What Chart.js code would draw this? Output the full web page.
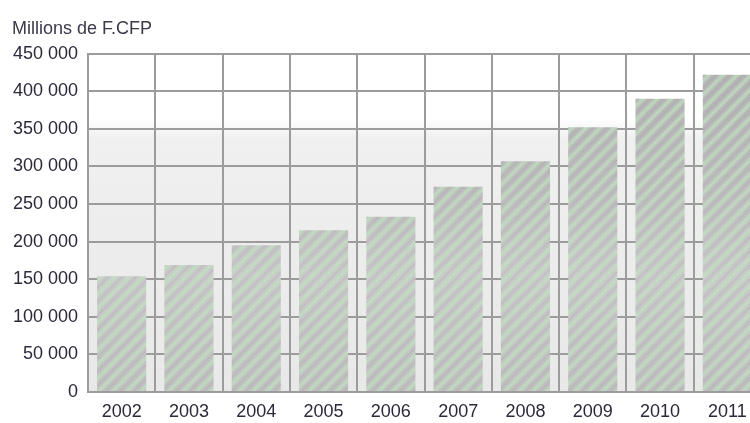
<!DOCTYPE html>
<html>
<head>
<meta charset="utf-8">
<script src="https://cdn.jsdelivr.net/npm/chart.js@4/dist/chart.umd.min.js"></script>
<style>
  html, body { margin: 0; padding: 0; background: #fff; overflow: hidden; }
  #wrap { width: 770px; height: 423px; }
</style>
</head>
<body>
<div id="wrap"><canvas id="chartRecettes" width="770" height="423"></canvas></div>
<script>
// données (millions de F.CFP)
const annees = ['2002', '2003', '2004', '2005', '2006', '2007', '2008', '2009', '2010', '2011'];
const montants = [154000, 169000, 195000, 215000, 233000, 273000, 307000, 352000, 390000, 422000];
const yMax = 450000;
const yPas = 50000;

const police = "'Liberation Sans', Arial, sans-serif";

// motif hachuré des barres : dégradé gris + rayures vertes en diagonale
function motifBarres() {
    const c = document.createElement('canvas');
    c.width = 28;
    c.height = 423;
    const g = c.getContext('2d');
    const grad = g.createLinearGradient(0, 54, 0, 392);
    grad.addColorStop(0, '#b3b3b3');
    grad.addColorStop(0.4, '#bdbdbd');
    grad.addColorStop(0.65, '#c9c9c9');
    grad.addColorStop(1, '#bfbfbf');
    g.fillStyle = grad;
    g.fillRect(0, 0, c.width, c.height);
    g.strokeStyle = 'rgba(192, 228, 192, 0.6)';
    g.lineWidth = 4;
    for (let x = -c.height; x < c.width + c.height; x += 14) {
        g.beginPath();
        g.moveTo(x, c.height);
        g.lineTo(x + c.height, 0);
        g.stroke();
    }
    g.strokeStyle = 'rgba(140, 140, 140, 0.3)';
    g.lineWidth = 1;
    for (let x = -c.height + 7; x < c.width + c.height; x += 14) {
        g.beginPath();
        g.moveTo(x, c.height);
        g.lineTo(x + c.height, 0);
        g.stroke();
    }
    return g.createPattern(c, 'repeat');
}

const fondZone = {
    id: 'fondZone',
    beforeDraw(chart) {
        const { ctx, chartArea: a } = chart;
        const grad = ctx.createLinearGradient(0, a.top, 0, a.bottom);
        grad.addColorStop(0, '#ffffff');
        grad.addColorStop(0.19, '#ffffff');
        grad.addColorStop(0.25, '#f0f0f0');
        grad.addColorStop(1, '#e8e8e8');
        ctx.save();
        ctx.fillStyle = grad;
        ctx.fillRect(a.left, a.top, a.right - a.left, a.bottom - a.top);
        ctx.restore();
    }
};

new Chart(document.getElementById('chartRecettes'), {
    type: 'bar',
    data: {
        labels: annees,
        datasets: [{
            label: 'Millions de F.CFP',
            data: montants,
            backgroundColor: motifBarres(),
            borderWidth: 0,
            barPercentage: 0.73,
            categoryPercentage: 1
        }]
    },
    options: {
        responsive: false,
        devicePixelRatio: 1,
        animation: false,
        layout: { padding: { left: 12, right: 9, top: 0, bottom: 0 } },
        plugins: {
            legend: { display: false },
            tooltip: { enabled: false },
            title: {
                display: true,
                text: 'Millions de F.CFP',
                align: 'start',
                color: '#3a3a4a',
                font: { family: police, size: 18, weight: 'normal' },
                padding: { top: 18, bottom: 14 }
            }
        },
        scales: {
            x: {
                grid: { color: '#9c9c9c', lineWidth: 2, drawTicks: false, offset: true },
                border: { color: '#9c9c9c', width: 2 },
                ticks: { color: '#2a2a3a', font: { family: police, size: 18 }, padding: 9 },
                afterFit(scale) { scale.height = 31; }
            },
            y: {
                min: 0,
                max: yMax,
                grid: { color: '#9c9c9c', lineWidth: 2, drawTicks: false },
                border: { color: '#9c9c9c', width: 2 },
                ticks: {
                    stepSize: yPas,
                    color: '#2a2a3a',
                    font: { family: police, size: 18 },
                    padding: 10,
                    callback: v => v === 0 ? '0' : String(v).replace(/\B(?=(\d{3})+(?!\d))/g, ' ')
                },
                afterFit(scale) { scale.width = 76; }
            }
        }
    },
    plugins: [fondZone]
});
</script>
</body>
</html>
